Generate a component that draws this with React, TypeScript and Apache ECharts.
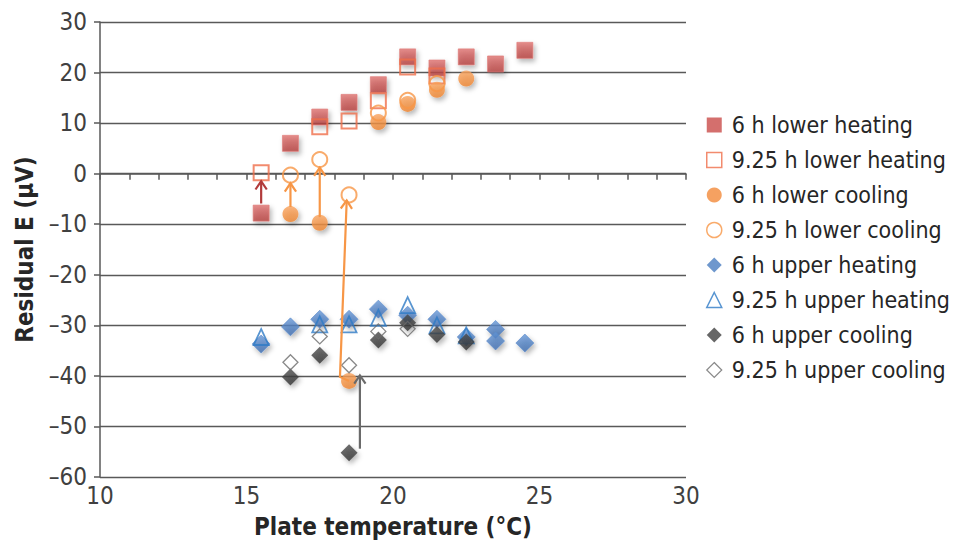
import React, { useEffect, useRef } from "react";
import * as echarts from "echarts";

// ---- data (plate temperature °C, residual E µV) ----
const lowerHeating6h: [number, number][] = [
  [15.5, -7.8], [16.5, 6.0], [17.5, 11.2], [18.5, 14.1], [19.5, 17.6],
  [20.5, 23.1], [21.5, 20.9], [22.5, 23.1], [23.5, 21.7], [24.5, 24.4],
];
const lowerHeating925h: [number, number][] = [
  [15.5, 0.2], [17.5, 9.3], [18.5, 10.4], [19.5, 14.4], [20.5, 21.1], [21.5, 19.3],
];
const lowerCooling6h: [number, number][] = [
  [16.5, -8.0], [17.5, -9.7], [18.5, -41.0], [19.5, 10.2], [20.5, 13.8], [21.5, 16.6], [22.5, 18.8],
];
const lowerCooling925h: [number, number][] = [
  [16.5, -0.3], [17.5, 2.8], [18.5, -4.2], [19.5, 12.0], [20.5, 14.5], [21.5, 17.8],
];
const upperHeating6h: [number, number][] = [
  [15.5, -33.7], [16.5, -30.3], [17.5, -28.8], [18.5, -28.8], [19.5, -26.8], [20.5, -28.0],
  [21.5, -28.8], [22.5, -32.3], [23.5, -30.8], [23.5, -33.1], [24.5, -33.5],
];
const upperHeating925h: [number, number][] = [
  [15.5, -32.3], [17.5, -29.8], [18.5, -29.8], [19.5, -28.5], [20.5, -26.0], [21.5, -30.0], [22.5, -32.0],
];
const upperCooling6h: [number, number][] = [
  [16.5, -40.2], [17.5, -35.9], [18.5, -55.2], [19.5, -32.9], [20.5, -29.5], [21.5, -31.8], [22.5, -33.3],
];
const upperCooling925h: [number, number][] = [
  [16.5, -37.3], [17.5, -32.2], [18.5, -37.9], [19.5, -31.2], [20.5, -30.7],
];

const seriesNames = [
  "6 h lower heating",
  "9.25 h lower heating",
  "6 h lower cooling",
  "9.25 h lower cooling",
  "6 h upper heating",
  "9.25 h upper heating",
  "6 h upper cooling",
  "9.25 h upper cooling",
];

// arrows: [from ... to] in data coordinates
const arrowPaths: { color: string; points: [number, number][] }[] = [
  { color: "#B23B3B", points: [[15.5, -5.9], [15.5, -1.5]] },
  { color: "#F79646", points: [[16.5, -6.6], [16.5, -1.9]] },
  { color: "#F79646", points: [[17.5, -8.6], [17.5, 1.2]] },
  { color: "#F79646", points: [[18.5, -41.0], [18.19, -40.2], [18.42, -5.3]] },
  { color: "#6A6A6A", points: [[18.87, -54.4], [18.87, -39.9]] },
];

const xTickMin = 10;
const xTickMax = 30;
const yTickMin = -60;
const yTickMax = 30;

const FONT = "'DejaVu Sans Condensed', 'DejaVu Sans'";

function grad(top: string, bottom: string) {
  return new echarts.graphic.LinearGradient(0, 0, 0, 1, [
    { offset: 0, color: top },
    { offset: 1, color: bottom },
  ]);
}

const shadow = {
  shadowBlur: 5,
  shadowOffsetX: 2,
  shadowOffsetY: 3,
  shadowColor: "rgba(0,0,0,0.35)",
};

export default function App() {
  const ref = useRef<HTMLDivElement>(null);

  useEffect(() => {
    if (!ref.current) return;
    const chart = echarts.init(ref.current, null, { renderer: "svg" });

    const scatter = (
      name: string,
      data: [number, number][],
      symbol: string,
      size: number | number[],
      itemStyle: any
    ) => ({
      name,
      type: "scatter",
      xAxisIndex: 0,
      yAxisIndex: 0,
      data,
      symbol,
      symbolSize: size,
      itemStyle,
      emphasis: { disabled: true },
    });

    const arrowSeries = arrowPaths.map((a) => ({
      type: "custom",
      coordinateSystem: "cartesian2d",
      xAxisIndex: 0,
      yAxisIndex: 0,
      silent: true,
      z: 10,
      data: [a.points[0]],
      renderItem: (_params: any, api: any) => {
        const pts = a.points.map((p) => api.coord(p));
        const n = pts.length;
        const [tx, ty] = pts[n - 1];
        const [px, py] = pts[n - 2];
        const ang = Math.atan2(ty - py, tx - px);
        const L = 10;
        const spread = 0.6;
        const p1 = [tx - L * Math.cos(ang - spread), ty - L * Math.sin(ang - spread)];
        const p2 = [tx - L * Math.cos(ang + spread), ty - L * Math.sin(ang + spread)];
        return {
          type: "group",
          children: [
            {
              type: "polyline",
              shape: { points: pts },
              style: { stroke: a.color, lineWidth: 2.2, fill: null },
            },
            {
              type: "polyline",
              shape: { points: [p1, [tx, ty], p2] },
              style: { stroke: a.color, lineWidth: 2.2, fill: null },
            },
          ],
        };
      },
    }));

    const legendStyles: any[] = [
      { icon: "rect", itemStyle: { color: "#C94B49", borderWidth: 0 } },
      { icon: "rect", itemStyle: { color: "#fff", borderColor: "#EF6E4A", borderWidth: 1.5 } },
      { icon: "circle", itemStyle: { color: "#F38A3A", borderWidth: 0 } },
      { icon: "circle", itemStyle: { color: "#fff", borderColor: "#F79646", borderWidth: 1.5 } },
      { icon: "diamond", itemStyle: { color: "#4A7DC0", borderWidth: 0 } },
      { icon: "triangle", itemStyle: { color: "#fff", borderColor: "#2E7BC6", borderWidth: 1.5 } },
      { icon: "diamond", itemStyle: { color: "#404040", borderWidth: 0 } },
      { icon: "diamond", itemStyle: { color: "#fff", borderColor: "#6A6A6A", borderWidth: 1.2 } },
    ];

    chart.setOption({
      animation: false,
      backgroundColor: "#ffffff",
      grid: {
        left: 100,
        right: 269,
        top: 22,
        bottom: 65,
        containLabel: false,
        outerBoundsMode: "none",
      },
      legend: {
        orient: "vertical",
        left: 706,
        top: 113,
        padding: 0,
        itemWidth: 15,
        itemHeight: 15,
        itemGap: 11,
        selectedMode: false,
        textStyle: {
          fontFamily: FONT,
          fontSize: 23,
          color: "#262626",
          lineHeight: 24,
          padding: [0, 0, 0, 5],
        },
        data: seriesNames.map((n, i) => ({ name: n, ...legendStyles[i] })),
      },
      xAxis: [
        {
          type: "value",
          min: xTickMin,
          max: xTickMax,
          interval: 5,
          name: "Plate temperature (°C)",
          nameLocation: "middle",
          nameGap: 38,
          nameTextStyle: { fontFamily: FONT, fontSize: 24, fontWeight: "bold", color: "#262626" },
          axisLine: { show: false, onZero: false },
          axisTick: { show: false },
          splitLine: { show: false },
          axisLabel: { fontFamily: FONT, fontSize: 24, color: "#404040", margin: 7 },
        },
        {
          type: "value",
          min: xTickMin,
          max: xTickMax,
          interval: 1,
          position: "bottom",
          axisLine: { show: true, onZero: true, lineStyle: { color: "#595959", width: 1.5 } },
          axisTick: { show: true, length: 6, lineStyle: { color: "#595959", width: 1.5 } },
          axisLabel: { show: false },
          splitLine: { show: false },
        },
      ],
      yAxis: {
        type: "value",
        min: yTickMin,
        max: yTickMax,
        interval: 10,
        name: "Residual E (μV)",
        nameLocation: "middle",
        nameGap: 63,
        nameTextStyle: { fontFamily: FONT, fontSize: 24, fontWeight: "bold", color: "#262626" },
        axisLine: { show: true, onZero: false, lineStyle: { color: "#595959", width: 1.5 } },
        axisTick: { show: true, length: 6, lineStyle: { color: "#595959", width: 1.5 } },
        splitLine: { show: true, lineStyle: { color: "#595959", width: 1.4 } },
        axisLabel: {
          fontFamily: FONT,
          fontSize: 24,
          color: "#404040",
          margin: 13,
          formatter: (v: number) => String(v).replace("-", "\u2013"),
        },
      },
      series: [
        scatter(seriesNames[0], lowerHeating6h, "rect", 16, {
          color: grad("#DE716F", "#B53F3D"),
          borderColor: "#E07A78",
          borderWidth: 0.8,
          ...shadow,
        }),
        scatter(seriesNames[1], lowerHeating925h, "rect", 15, {
          color: "rgba(255,255,255,0)",
          borderColor: "#EF6E4A",
          borderWidth: 2,
        }),
        scatter(seriesNames[2], lowerCooling6h, "circle", 16, {
          color: grad("#F9A35E", "#EE8530"),
          ...shadow,
        }),
        scatter(seriesNames[3], lowerCooling925h, "circle", 15, {
          color: "rgba(255,255,255,0)",
          borderColor: "#F79646",
          borderWidth: 2,
        }),
        scatter(seriesNames[4], upperHeating6h, "diamond", 18, {
          color: grad("#6596D6", "#3E6CAE"),
          borderColor: "#5A8BCB",
          borderWidth: 0.8,
          ...shadow,
        }),
        scatter(seriesNames[5], upperHeating925h, "triangle", [15, 16], {
          color: "rgba(255,255,255,0)",
          borderColor: "#2E7BC6",
          borderWidth: 1.8,
        }),
        scatter(seriesNames[6], upperCooling6h, "diamond", 17, {
          color: grad("#4A4A4A", "#333333"),
          ...shadow,
        }),
        scatter(seriesNames[7], upperCooling925h, "diamond", 15, {
          color: "rgba(255,255,255,0)",
          borderColor: "#6A6A6A",
          borderWidth: 1.3,
        }),
        ...arrowSeries,
      ],
    } as any);

    return () => chart.dispose();
  }, []);

  return (
    <div
      ref={ref}
      style={{ position: "absolute", left: 0, top: 0, width: 955, height: 542 }}
    />
  );
}
